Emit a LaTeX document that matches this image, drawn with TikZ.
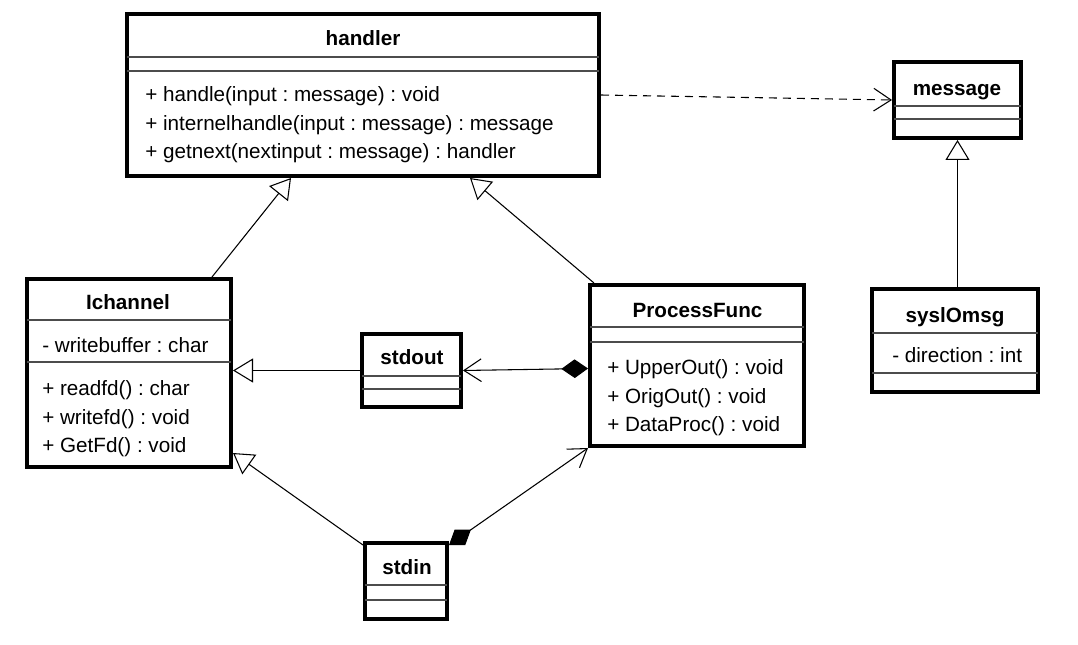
\documentclass[tikz,border=0pt]{standalone}
\usepackage{fontspec}
\setmainfont{Liberation Sans}
\frenchspacing
\usetikzlibrary{arrows.meta}

\tikzset{
    umlclass/.style={draw, line width=3pt, inner sep=0pt},
    compline/.style={line width=1.2pt, black!70},
    classname/.style={anchor=base, font=\fontsize{15.5pt}{18pt}\selectfont\bfseries},
    member/.style={anchor=base west, inner sep=0pt, font=\fontsize{15.5pt}{18pt}\selectfont},
    link/.style={line width=0.8pt},
    inherit/.style={link, -{Triangle[open, length=15pt, width=18pt]}},
    compose/.style={link, {Diamond[length=20pt, width=14pt]}-{Straight Barb[length=13pt, width=17pt]}},
    depend/.style={link, dash pattern=on 6pt off 4.5pt, -{Straight Barb[length=13pt, width=17pt]}}
}

\begin{document}
\begin{tikzpicture}[x=0.75pt, y=-0.75pt]
    \useasboundingbox (0,0) rectangle (1078,645);

    % Draw the class boxes
    \node[umlclass, minimum width=354pt, minimum height=121.5pt] (handler) at (363,95) {};
    \node[umlclass, minimum width=95.25pt, minimum height=57pt] (message) at (957.5,100) {};
    \node[umlclass, minimum width=124.5pt, minimum height=77.25pt] (syslOmsg) at (955,340.5) {};
    \node[umlclass, minimum width=153pt, minimum height=141pt] (Ichannel) at (129,373) {};
    \node[umlclass, minimum width=74.25pt, minimum height=54.75pt] (stdout) at (411.5,370.5) {};
    \node[umlclass, minimum width=160.5pt, minimum height=120.75pt] (ProcessFunc) at (697,365.5) {};
    \node[umlclass, minimum width=61.5pt, minimum height=57pt] (stdin) at (406,581) {};

    % Draw the compartment lines
    \foreach \y in {57,71} \draw[compline] (127,\y) -- (599,\y);
    \foreach \y in {106,119} \draw[compline] (894,\y) -- (1021,\y);
    \foreach \y in {333,373} \draw[compline] (872,\y) -- (1038,\y);
    \foreach \y in {320,362} \draw[compline] (27,\y) -- (231,\y);
    \foreach \y in {376,389} \draw[compline] (362,\y) -- (461,\y);
    \foreach \y in {327,342} \draw[compline] (590,\y) -- (804,\y);
    \foreach \y in {585,600} \draw[compline] (365,\y) -- (447,\y);

    % Class names
    \node[classname] (handlerName) at (363,45.5) {handler};
    \node[classname] (messageName) at (957,95.5) {message};
    \node[classname] (syslOmsgName) at (955,322.5) {syslOmsg};
    \node[classname] (IchannelName) at (128,309.5) {Ichannel};
    \node[classname] (stdoutName) at (412,364.5) {stdout};
    \node[classname] (ProcessFuncName) at (697.5,317.5) {ProcessFunc};
    \node[classname] (stdinName) at (407,574.5) {stdin};

    % Attributes and operations
    \node[member] (handlerOpA) at (145,102) {+ handle(input : message) : void};
    \node[member] (handlerOpB) at (145,130.5) {+ internelhandle(input : message) : message};
    \node[member] (handlerOpC) at (145,159) {+ getnext(nextinput : message) : handler};
    \node[member] (syslOmsgAttr) at (892,362.5) {- direction : int};
    \node[member] (IchannelAttr) at (42,352.5) {- writebuffer : char};
    \node[member] (IchannelOpA) at (42,395.5) {+ readfd() : char};
    \node[member] (IchannelOpB) at (42,424.5) {+ writefd() : void};
    \node[member] (IchannelOpC) at (42,452.5) {+ GetFd() : void};
    \node[member] (ProcessFuncOpA) at (607,374.5) {+ UpperOut() : void};
    \node[member] (ProcessFuncOpB) at (607,403.5) {+ OrigOut() : void};
    \node[member] (ProcessFuncOpC) at (607,431.5) {+ DataProc() : void};

    % Generalizations
    \draw[inherit] ([xshift=62.25pt]Ichannel.north) -- ([xshift=-54pt]handler.south);
    \draw[inherit] ([xshift=-77.25pt]ProcessFunc.north) -- ([xshift=80.25pt]handler.south);
    \draw[inherit] (syslOmsg.north -| message.south) -- (message.south);
    \draw[inherit] (stdout.west) -- (stdout.west -| Ichannel.east);
    \draw[inherit] ([yshift=-3pt]stdin.north west) -- ([yshift=12pt]Ichannel.south east);

    % Compositions and dependency
    \draw[compose] ([yshift=-2.25pt]ProcessFunc.west) -- (stdout.east);
    \draw[compose] ([yshift=-3pt]stdin.north east) -- (ProcessFunc.south west);
    \draw[depend] (handler.east) -- (message.west);
\end{tikzpicture}
\end{document}
